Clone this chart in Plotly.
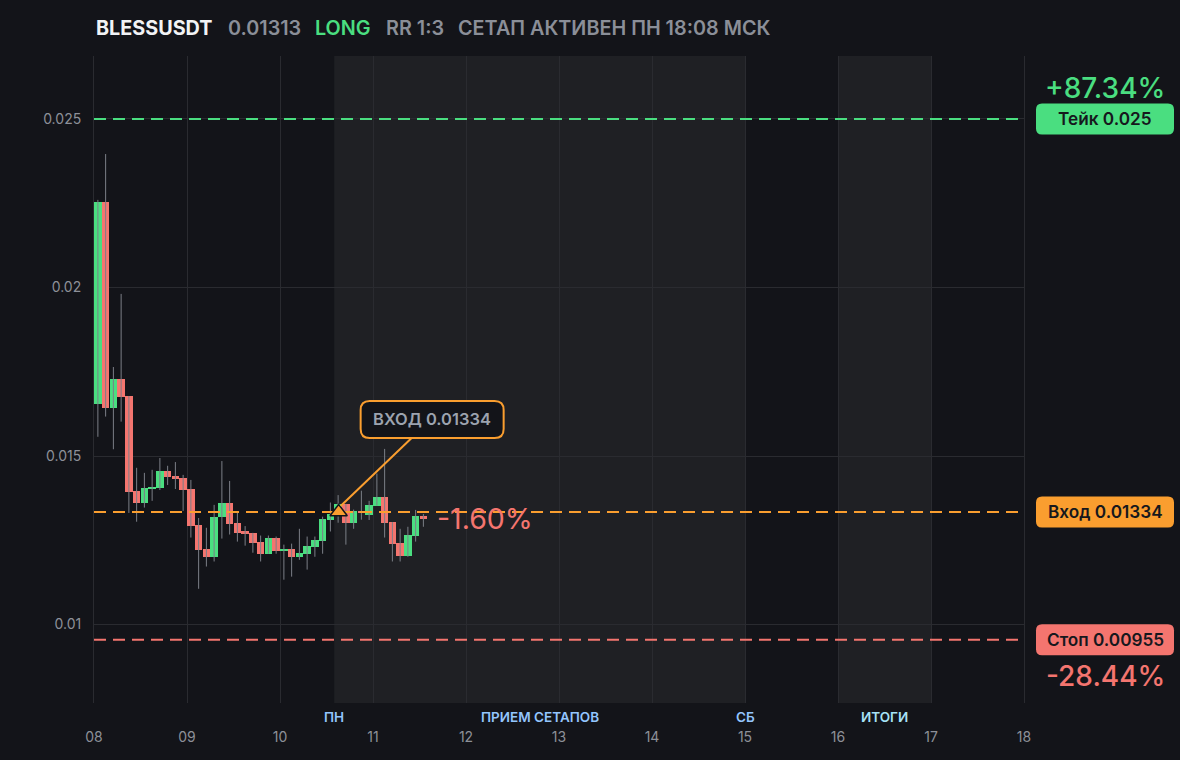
import plotly.graph_objects as go
import pandas as pd

# ---------------- data ----------------
symbol = "BLESSUSDT"
last_price_text = "0.01313"
side = "LONG"
rr_text = "RR 1:3"
status_text = "СЕТАП АКТИВЕН ПН 18:08 МСК"

candle_start = "2025-11-08 01:00"   # centre of the first 2h candle
opens = [0.01655, 0.02254, 0.01643, 0.01729, 0.01678, 0.01396, 0.01362, 0.01402, 0.01405, 0.01456,
         0.01441, 0.01435, 0.01402, 0.01295, 0.01224, 0.01201, 0.01319, 0.01361, 0.01301, 0.01276,
         0.01272, 0.01245, 0.01210, 0.01257, 0.01219, 0.01225, 0.01201, 0.01210, 0.01231, 0.01249,
         0.01311, 0.01331, 0.01358, 0.01302, 0.01338, 0.01326, 0.01353, 0.01378, 0.01304, 0.01243,
         0.01204, 0.01264, 0.01322]
highs = [0.02260, 0.02396, 0.01764, 0.01981, 0.01678, 0.01465, 0.01450, 0.01459, 0.01494, 0.01471,
         0.01482, 0.01444, 0.01429, 0.01316, 0.01287, 0.01355, 0.01485, 0.01426, 0.01332, 0.01292,
         0.01272, 0.01264, 0.01264, 0.01261, 0.01237, 0.01240, 0.01284, 0.01261, 0.01261, 0.01320,
         0.01362, 0.01384, 0.01358, 0.01341, 0.01397, 0.01367, 0.01448, 0.01521, 0.01304, 0.01284,
         0.01290, 0.01340, 0.01328]
lows = [0.01557, 0.01617, 0.01520, 0.01602, 0.01331, 0.01305, 0.01347, 0.01367, 0.01399, 0.01414,
        0.01402, 0.01337, 0.01258, 0.01106, 0.01172, 0.01187, 0.01255, 0.01267, 0.01246, 0.01234,
        0.01213, 0.01187, 0.01210, 0.01210, 0.01133, 0.01142, 0.01192, 0.01163, 0.01201, 0.01210,
        0.01276, 0.01302, 0.01237, 0.01284, 0.01311, 0.01310, 0.01353, 0.01258, 0.01187, 0.01187,
        0.01201, 0.01246, 0.01290]
closes = [0.02254, 0.01643, 0.01729, 0.01676, 0.01394, 0.01362, 0.01405, 0.01408, 0.01456, 0.01438,
          0.01432, 0.01399, 0.01293, 0.01222, 0.01201, 0.01319, 0.01361, 0.01299, 0.01273, 0.01270,
          0.01243, 0.01210, 0.01257, 0.01219, 0.01225, 0.01201, 0.01213, 0.01234, 0.01252, 0.01314,
          0.01329, 0.01359, 0.01302, 0.01337, 0.01330, 0.01355, 0.01378, 0.01302, 0.01240, 0.01204,
          0.01266, 0.01322, 0.01313]

take_price = 0.025
entry_price = 0.01334
stop_price = 0.00955
entry_time = "2025-11-10 15:08"
take_label = "Тейк 0.025"
entry_label = "Вход 0.01334"
stop_label = "Стоп 0.00955"
entry_callout = "ВХОД 0.01334"
take_pct = "+87.34%"
stop_pct = "-28.44%"
current_pct = "-1.60%"

zones = [("2025-11-10 14:00", "2025-11-15 00:00"), ("2025-11-16 00:00", "2025-11-17 00:00")]
zone_label_x = ["2025-11-10 14:00", "2025-11-12 19:00", "2025-11-15 00:00", "2025-11-16 12:00"]
zone_label_text = ["ПН", "ПРИЕМ СЕТАПОВ", "СБ", "ИТОГИ"]

x_range = ["2025-11-08 00:00", "2025-11-18 00:00"]
y_range = [0.007671, 0.026869]

# ---------------- style ----------------
BG = "#131419"
SHADE = "#1f2024"
GRID = "#2a2b30"
GREEN = "#4ade80"
RED = "#f4756f"
ORANGE = "#fa9e2f"
WICK = "#7c7f87"
TICK = "#8d9098"
FONT = "Inter"

times = pd.date_range(candle_start, periods=len(opens), freq="2h")
body_base = [min(o, c) for o, c in zip(opens, closes)]
body_h = [abs(c - o) for o, c in zip(opens, closes)]
body_col = [GREEN if c >= o else RED for o, c in zip(opens, closes)]

wx, wy = [], []
for t, lo, hi in zip(times, lows, highs):
    wx += [t, t, None]
    wy += [lo, hi, None]

fig = go.Figure()
fig.add_trace(go.Scatter(x=wx, y=wy, mode="lines", line=dict(color=WICK, width=1),
                         hoverinfo="skip"))
fig.add_trace(go.Bar(x=times, y=body_h, base=body_base, marker=dict(color=body_col, line=dict(width=0)),
                     width=2 * 3600 * 1000 * 0.96, hoverinfo="skip"))
for lvl, col in [(take_price, GREEN), (entry_price, ORANGE), (stop_price, RED)]:
    fig.add_trace(go.Scatter(x=x_range, y=[lvl, lvl], mode="lines",
                             line=dict(color=col, width=2, dash="12px,7px"), hoverinfo="skip"))
fig.add_trace(go.Scatter(x=[entry_time], y=[entry_price], mode="markers",
                         marker=dict(symbol="triangle-up", size=15, color=ORANGE,
                                     line=dict(color="#141519", width=1.5)),
                         hoverinfo="skip"))


def rrect(x0, y0, x1, y1, r):
    return (f"M{x0 + r},{y0} L{x1 - r},{y0} Q{x1},{y0} {x1},{y0 + r} L{x1},{y1 - r} "
            f"Q{x1},{y1} {x1 - r},{y1} L{x0 + r},{y1} Q{x0},{y1} {x0},{y1 - r} "
            f"L{x0},{y0 + r} Q{x0},{y0} {x0 + r},{y0} Z")


def ypaper(v):
    return (v - y_range[0]) / (y_range[1] - y_range[0])


shapes = []
for a, b in zones:
    shapes.append(dict(type="rect", xref="x", yref="paper", x0=a, x1=b, y0=0, y1=1,
                       fillcolor=SHADE, line=dict(width=0), layer="below"))

# right side price tags
for lvl, col in [(take_price, GREEN), (entry_price, ORANGE), (stop_price, RED)]:
    shapes.append(dict(type="path", xref="paper", yref="paper", xsizemode="pixel", ysizemode="pixel",
                       xanchor=1, yanchor=ypaper(lvl), path=rrect(12, -15.5, 150, 15.5, 6),
                       fillcolor=col, line=dict(width=0), layer="above"))

# entry call-out
shapes.append(dict(type="line", xref="x", yref="y", xsizemode="pixel", ysizemode="pixel",
                   xanchor=entry_time, yanchor=entry_price, x0=2, y0=6, x1=73, y1=74,
                   line=dict(color=ORANGE, width=2), layer="above"))
shapes.append(dict(type="path", xref="x", yref="y", xsizemode="pixel", ysizemode="pixel",
                   xanchor=entry_time, yanchor=entry_price, path=rrect(22, 74, 165, 111, 9),
                   fillcolor=BG, line=dict(color=ORANGE, width=2), layer="above"))

ann = []
# header
head = [(symbol, "#f2f3f5", 700, 0), (last_price_text, "#8b8f98", 600, 132),
        (side, GREEN, 600, 219), (rr_text, "#8b8f98", 600, 290), (status_text, "#8b8f98", 600, 362)]
for txt, col, w, dx in head:
    ann.append(dict(text=txt, xref="paper", yref="paper", x=0, y=1, xanchor="left", yanchor="middle",
                    xshift=dx, yshift=28, showarrow=False,
                    font=dict(family=FONT, size=19.8, color=col, weight=w)))
# tag texts
for lvl, txt in [(take_price, take_label), (entry_price, entry_label), (stop_price, stop_label)]:
    ann.append(dict(text=txt, xref="paper", yref="y", x=1, y=lvl, xanchor="center", yanchor="middle",
                    xshift=81, showarrow=False, font=dict(family=FONT, size=17.2, color="#16181d", weight=600)))
ann.append(dict(text=take_pct, xref="paper", yref="y", x=1, y=take_price, xanchor="center",
                yanchor="middle", xshift=80.5, yshift=31, showarrow=False,
                font=dict(family=FONT, size=28, color=GREEN, weight=500)))
ann.append(dict(text=stop_pct, xref="paper", yref="y", x=1, y=stop_price, xanchor="center",
                yanchor="middle", xshift=81, yshift=-36, showarrow=False,
                font=dict(family=FONT, size=28, color=RED, weight=500)))
ann.append(dict(text=current_pct, xref="x", yref="y", x=times[-1], y=closes[-1], xanchor="left",
                yanchor="middle", xshift=12, yshift=1, showarrow=False,
                font=dict(family=FONT, size=28.5, color=RED, weight=400)))
ann.append(dict(text=entry_callout, xref="x", yref="y", x=entry_time, y=entry_price, xanchor="center",
                yanchor="middle", xshift=93.5, yshift=92.5, showarrow=False,
                font=dict(family=FONT, size=16.5, color="#9ca3af", weight=600)))
# zone labels
for i, (zx, zt) in enumerate(zip(zone_label_x, zone_label_text)):
    ann.append(dict(text=zt, xref="x", yref="paper", x=zx, y=0, xanchor="center", yanchor="middle",
                    yshift=-14, showarrow=False,
                    font=dict(family=FONT, size=13.5, weight=600,
                              color="#a6e2f5" if zt == "ИТОГИ" else "#93c5fd")))

fig.update_layout(
    width=1180, height=760,
    margin=dict(l=94, r=156, t=56, b=57),
    paper_bgcolor=BG, plot_bgcolor=BG,
    showlegend=False, bargap=0,
    font=dict(family=FONT, color=TICK, size=14),
    shapes=shapes, annotations=ann,
    xaxis=dict(type="date", range=x_range, dtick=86400000, tick0="2025-11-08", tickformat="%d",
               showgrid=True, gridcolor=GRID, gridwidth=1, zeroline=False, showline=False,
               ticks="", ticklabelstandoff=24, tickfont=dict(family=FONT, size=14, color=TICK),
               fixedrange=True),
    yaxis=dict(range=y_range, dtick=0.005, tick0=0, showgrid=True, gridcolor=GRID, gridwidth=1,
               zeroline=False, showline=True, linecolor=GRID, linewidth=1, mirror=True,
               ticks="", ticklabelstandoff=9,
               tickfont=dict(family=FONT, size=14, color=TICK), fixedrange=True),
)

fig.write_html("out.html", config={"displayModeBar": False},
               post_script="document.body.style.margin='0';document.body.style.background='#131419';")
